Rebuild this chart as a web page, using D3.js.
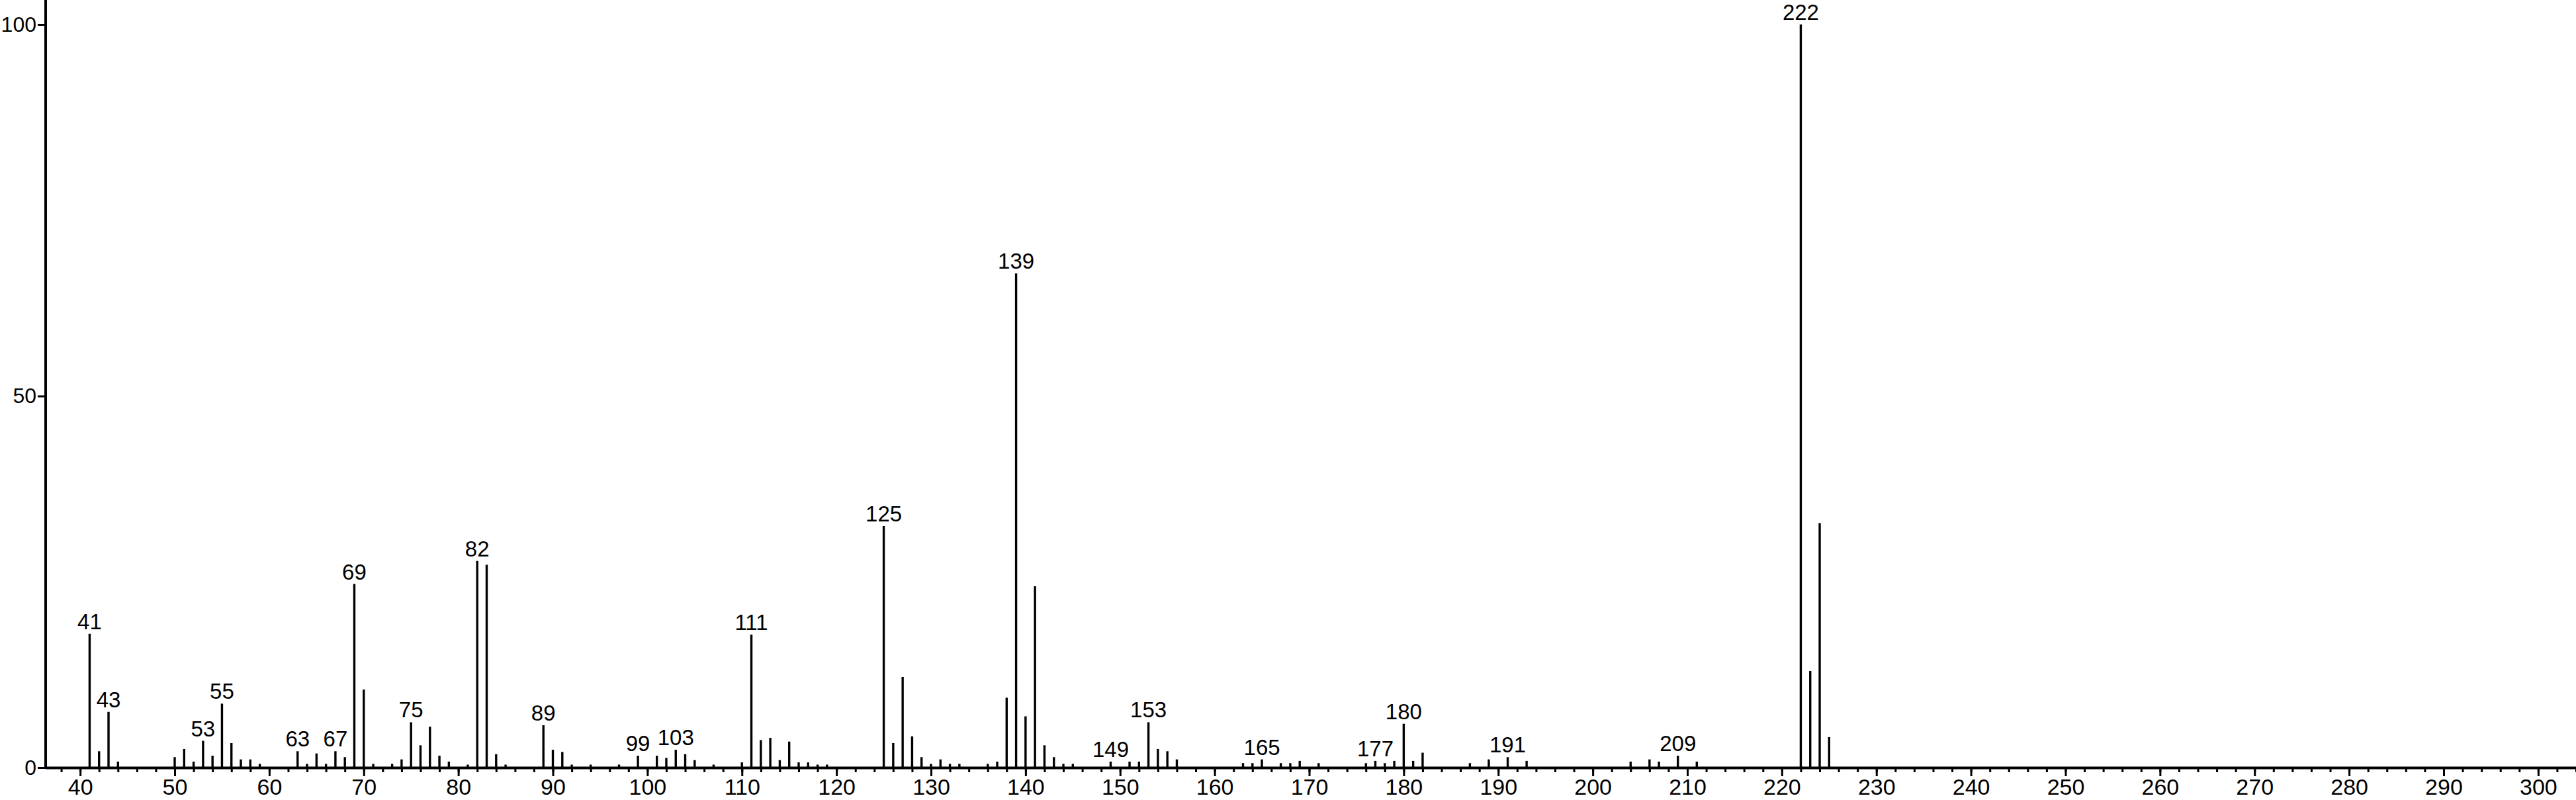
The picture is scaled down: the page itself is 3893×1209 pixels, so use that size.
<!DOCTYPE html>
<html>
<head>
<meta charset="utf-8">
<script src="https://cdn.jsdelivr.net/npm/d3@7"></script>
<style>
  html, body { margin: 0; padding: 0; background: #fff; }
  svg { display: block; }
</style>
</head>
<body>
<script>
// m/z of each peak
const mz = [
  41, 42, 43, 44, 50, 51, 52, 53, 54, 55, 56, 57, 58, 59,
  63, 64, 65, 66, 67, 68, 69, 70, 71, 73, 74, 75, 76, 77, 78, 79,
  81, 82, 83, 84, 85, 89, 90, 91, 92, 94, 97, 99, 101, 102, 103, 104, 105, 107,
  110, 111, 112, 113, 114, 115, 116, 117, 118, 119,
  125, 126, 127, 128, 129, 130, 131, 132, 133, 136, 137, 138, 139, 140, 141, 142, 143, 144, 145,
  149, 151, 152, 153, 154, 155, 156, 163, 164, 165, 167, 168, 169, 171,
  176, 177, 178, 179, 180, 181, 182, 187, 189, 191, 193,
  204, 206, 207, 209, 211, 222, 223, 224, 225
];
// relative intensity (%)
const intensity = [
  18.0, 2.2, 7.5, 0.8, 1.4, 2.5, 0.8, 3.6, 1.6, 8.6, 3.3, 1.1, 1.1, 0.5,
  2.2, 0.5, 1.9, 0.5, 2.2, 1.4, 24.7, 10.5, 0.5, 0.5, 1.1, 6.1, 3.0, 5.5, 1.6, 0.8,
  0.4, 27.8, 27.3, 1.8, 0.4, 5.7, 2.4, 2.1, 0.4, 0.4, 0.4, 1.6, 1.6, 1.3, 2.4, 1.8, 1.0, 0.4,
  0.7, 17.9, 3.7, 4.0, 1.0, 3.5, 0.7, 0.7, 0.4, 0.4,
  32.5, 3.3, 12.2, 4.2, 1.4, 0.5, 1.1, 0.5, 0.5, 0.5, 0.8, 9.4, 66.5, 6.9, 24.4, 3.0, 1.4, 0.5, 0.5,
  0.8, 0.8, 0.8, 6.1, 2.5, 2.2, 1.1, 0.6, 0.6, 1.1, 0.6, 0.6, 0.9, 0.6,
  0.6, 0.9, 0.6, 0.9, 5.9, 0.9, 2.0, 0.6, 1.1, 1.4, 0.9,
  0.8, 1.1, 0.8, 1.6, 0.8, 100, 13.0, 32.9, 4.1
];
// peaks that carry a label
const labelled = [41, 43, 53, 55, 63, 67, 69, 75, 82, 89, 99, 103, 111, 125, 139, 149, 153, 165, 177, 180, 191, 209, 222];

const xTicks = d3.range(40, 301, 10);
const xMinorTicks = d3.range(38, 305, 2);
const yTicks = [0, 50, 100];

const width = 3893, height = 1209;
const font = "'Liberation Sans', Arial, sans-serif";
const peaks = mz.map((m, i) => ({m, v: intensity[i]}));

const x = d3.scaleLinear().domain([36.35, 304]).range([69, width]);
const y = d3.scaleLinear().domain([0, 100]).range([1160, 37]);

const svg = d3.select("body").append("svg")
  .attr("width", width)
  .attr("height", height)
  .attr("font-family", font);

// bars
svg.append("g")
  .attr("stroke", "#000")
  .attr("stroke-width", 3.4)
  .selectAll("line")
  .data(peaks)
  .join("line")
  .attr("x1", d => x(d.m)).attr("x2", d => x(d.m))
  .attr("y1", y(0)).attr("y2", d => y(d.v));

// peak labels
svg.append("g")
  .attr("font-size", 33)
  .attr("fill", "#000")
  .attr("text-anchor", "middle")
  .selectAll("text")
  .data(peaks.filter(d => labelled.includes(d.m)))
  .join("text")
  .attr("x", d => x(d.m))
  .attr("y", d => y(d.v) - 7)
  .text(d => d.m);

// x axis: minor ticks first, then the major ones with labels
svg.append("g")
  .attr("transform", `translate(0,${y(0)})`)
  .call(d3.axisBottom(x).tickValues(xMinorTicks).tickSize(7).tickFormat(""))
  .call(g => g.select(".domain").remove())
  .call(g => g.selectAll("line").attr("stroke", "#000").attr("stroke-width", 3));

svg.append("g")
  .attr("transform", `translate(0,${y(0)})`)
  .call(d3.axisBottom(x).tickValues(xTicks).tickSize(13).tickSizeOuter(0).tickPadding(4))
  .call(g => g.select(".domain").attr("stroke", "#000").attr("stroke-width", 4))
  .call(g => g.selectAll(".tick line").attr("stroke", "#000").attr("stroke-width", 3))
  .call(g => g.selectAll("text")
    .attr("font-size", 34)
    .attr("font-family", font)
    .attr("fill", "#000"));

// y axis
svg.append("g")
  .attr("transform", `translate(${x.range()[0]},0)`)
  .call(d3.axisLeft(y).tickValues(yTicks).tickSize(12).tickSizeOuter(0).tickPadding(2))
  .call(g => g.select(".domain").remove())
  .call(g => g.selectAll(".tick line").attr("stroke", "#000").attr("stroke-width", 3))
  .call(g => g.selectAll("text")
    .attr("font-size", 32)
    .attr("font-family", font)
    .attr("fill", "#000"));

svg.append("line")
  .attr("x1", x.range()[0]).attr("x2", x.range()[0])
  .attr("y1", y(0) + 2).attr("y2", 0)
  .attr("stroke", "#000")
  .attr("stroke-width", 4);
</script>
</body>
</html>
